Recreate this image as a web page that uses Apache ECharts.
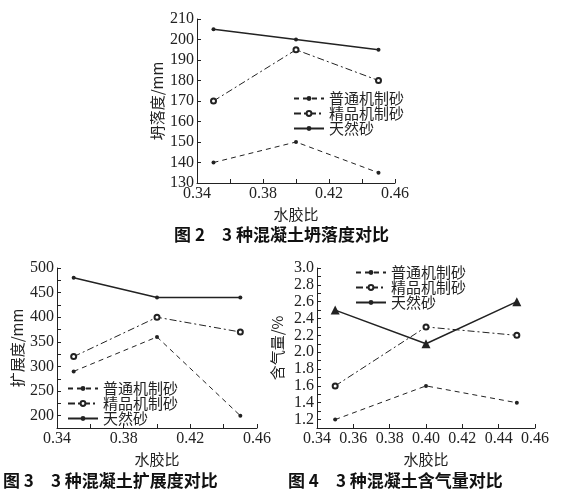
<!DOCTYPE html>
<html><head><meta charset="utf-8">
<script src="https://cdn.jsdelivr.net/npm/echarts@6/dist/echarts.min.js"></script>
<style>html,body{margin:0;background:#fff}#c{width:563px;height:500px}</style>
</head><body><div id="c"></div>
<script>
const xVals = [0.35, 0.40, 0.45];
const names = ['普通机制砂', '精品机制砂', '天然砂'];
const slump = { a: [140, 150, 135], b: [170, 195, 180], c: [205, 200, 195] };
const spread = { a: [290, 360, 200], b: [320, 400, 370], c: [480, 440, 440] };
const air = { a: [1.2, 1.6, 1.4], b: [1.6, 2.3, 2.2], c: [2.5, 2.1, 2.6] };
const captions = ['图 2　3 种混凝土坍落度对比', '图 3　3 种混凝土扩展度对比', '图 4　3 种混凝土含气量对比'];

const serif = '"Liberation Serif", "Noto Sans CJK SC", serif';
const cjk = '"Noto Sans CJK SC", sans-serif';
const axLine = { lineStyle: { color: '#222', width: 1 } };
function xAx(i, every4) {
  return { type: 'value', gridIndex: i, min: 0.34, max: 0.46, interval: 0.02,
    name: '水胶比', nameLocation: 'middle', nameGap: 24,
    nameTextStyle: { fontFamily: cjk, fontSize: 15, color: '#222' },
    axisLine: axLine, axisTick: { inside: true, length: 4, lineStyle: { color: '#222' } },
    splitLine: { show: false },
    axisLabel: { fontFamily: serif, fontSize: 16, color: '#222', margin: 3,
      formatter: v => { const k = Math.round(v * 100); return every4 ? (k % 4 === 2 ? v.toFixed(2) : '') : v.toFixed(2); } } };
}
function yAx(i, min, max, iv, name, fmt) {
  return { type: 'value', gridIndex: i, min, max, interval: iv,
    name, nameLocation: 'middle', nameGap: 32, nameRotate: 90,
    nameTextStyle: { fontFamily: cjk, fontSize: 15, color: '#222' },
    axisLine: { show: true, lineStyle: { color: '#222' } },
    axisTick: { show: true, inside: true, length: 4, lineStyle: { color: '#222' } },
    splitLine: { show: false },
    axisLabel: { fontFamily: serif, fontSize: 16, color: '#222', margin: 3, formatter: fmt } };
}
function ser(i, data, sym3) {
  const pts = k => xVals.map((x, j) => [x, data[k][j]]);
  return [
    { name: names[0], type: 'line', xAxisIndex: i, yAxisIndex: i, data: pts('a'), symbol: 'circle', symbolSize: 4,
      itemStyle: { color: '#222' }, lineStyle: { color: '#222', width: 1, type: [5, 4] } },
    { name: names[1], type: 'line', xAxisIndex: i, yAxisIndex: i, data: pts('b'), symbol: 'emptyCircle', symbolSize: 5,
      itemStyle: { color: '#222', borderColor: '#222' }, lineStyle: { color: '#222', width: 1, type: [7, 3, 2, 3] } },
    { name: names[2], type: 'line', xAxisIndex: i, yAxisIndex: i, data: pts('c'), symbol: sym3, symbolSize: sym3 === 'triangle' ? 9 : 4,
      itemStyle: { color: '#222' }, lineStyle: { color: '#222', width: 1.5 } }
  ];
}
function lg(left, top) {
  return { data: names, left, top, orient: 'vertical', itemGap: 0, itemWidth: 30, itemHeight: 6,
    textStyle: { fontFamily: cjk, fontSize: 15, color: '#222' }, selectedMode: false };
}
const chart = echarts.init(document.getElementById('c'));
chart.setOption({
  animation: false,
  grid: [
    { left: 197, top: 19, width: 198, height: 164 },
    { left: 57, top: 268, width: 200, height: 160 },
    { left: 317, top: 268, width: 218, height: 160 }
  ],
  xAxis: [xAx(0, true), xAx(1, true), xAx(2, false)],
  yAxis: [
    yAx(0, 130, 210, 10, '坍落度/mm'),
    yAx(1, 175, 500, 25, '扩展度/mm', v => v % 50 === 0 ? String(v) : ''),
    yAx(2, 1.1, 3.0, 0.1, '含气量/%', v => { const k = Math.round(v * 10); return (k % 2 === 0 && k >= 12) ? (k / 10).toFixed(1) : ''; })
  ],
  legend: [lg(288, 86), lg(62, 376), lg(350, 260)],
  graphic: [
    { type: 'text', left: 'center', top: 226, style: { text: captions[0], font: 'bold 17px ' + cjk, fill: '#111' } },
    { type: 'text', left: 3, top: 472, style: { text: captions[1], font: 'bold 17px ' + cjk, fill: '#111' } },
    { type: 'text', left: 288, top: 472, style: { text: captions[2], font: 'bold 17px ' + cjk, fill: '#111' } }
  ],
  series: [...ser(0, slump, 'circle'), ...ser(1, spread, 'circle'), ...ser(2, air, 'triangle')]
});
</script></body></html>
